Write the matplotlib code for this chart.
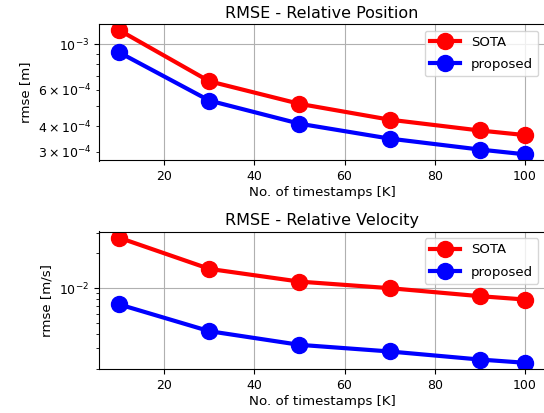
import matplotlib
matplotlib.use("Agg")
import matplotlib.pyplot as plt

timestamps = [10, 30, 50, 70, 90, 100]
pos_sota = [1.168e-3, 6.60e-4, 5.13e-4, 4.30e-4, 3.81e-4, 3.62e-4]
pos_proposed = [9.11e-4, 5.32e-4, 4.11e-4, 3.48e-4, 3.08e-4, 2.92e-4]
vel_sota = [2.74e-2, 1.47e-2, 1.14e-2, 1.00e-2, 8.52e-3, 7.97e-3]
vel_proposed = [7.22e-3, 4.23e-3, 3.22e-3, 2.82e-3, 2.40e-3, 2.25e-3]

W, H = 544, 413
fig = plt.figure(figsize=(W / 100, H / 100), dpi=100)

def px_axes(left, top, right, bottom):
    return fig.add_axes([left / W, 1 - bottom / H, (right - left) / W, (bottom - top) / H])

ax1 = px_axes(99, 24, 545, 160.5)
ax2 = px_axes(99, 231.5, 545, 369)

panels = [
    (ax1, pos_sota, pos_proposed, "RMSE - Relative Position", "rmse [m]"),
    (ax2, vel_sota, vel_proposed, "RMSE - Relative Velocity", "rmse [m/s]"),
]

for ax, sota, prop, title, ylabel in panels:
    ax.plot(timestamps, sota, color="red", marker="o", markersize=11.5, linewidth=3, label="SOTA")
    ax.plot(timestamps, prop, color="blue", marker="o", markersize=11.5, linewidth=3, label="proposed")
    ax.set_yscale("log")
    ax.grid(True, which="major", color="#b0b0b0", linewidth=0.8)
    ax.set_title(title, fontsize=11.5, pad=4.5)
    ax.set_xlabel("No. of timestamps [K]", fontsize=9.6, labelpad=2)
    ax.set_ylabel(ylabel, fontsize=9.6)
    ax.tick_params(axis="both", which="both", labelsize=9)
    ax.legend(loc="upper right", fontsize=9.5, handlelength=2.3,
              labelspacing=0.7, borderaxespad=0.5)

fig.savefig("out.png", dpi=100)
